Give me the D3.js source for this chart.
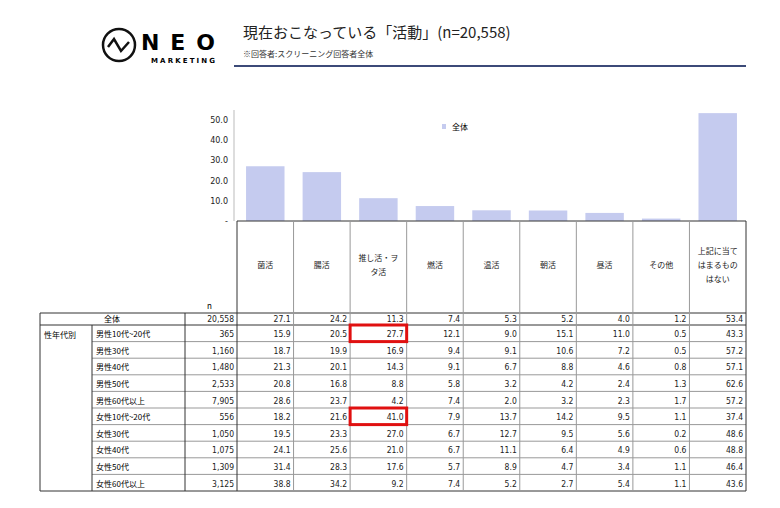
<!DOCTYPE html>
<html>
<head>
<meta charset="utf-8">
<script src="https://cdn.jsdelivr.net/npm/d3@7"></script>
<style>
  body { margin: 0; background: #fff; }
  svg { font-family: "Noto Sans CJK JP", "Noto Sans", sans-serif; }
</style>
</head>
<body>
<div id="chart"></div>
<script>
const categories = ["菌活", "腸活", "推し活・ヲタ活", "燃活", "温活", "朝活", "昼活", "その他", "上記に当てはまるものはない"];
const headerLines = [["菌活"], ["腸活"], ["推し活・ヲ", "タ活"], ["燃活"], ["温活"], ["朝活"], ["昼活"], ["その他"], ["上記に当て", "はまるもの", "はない"]];
const rowLabels = ["男性10代~20代", "男性30代", "男性40代", "男性50代", "男性60代以上", "女性10代~20代", "女性30代", "女性40代", "女性50代", "女性60代以上"];
const totalN = "20,558";
const totalValues = [27.1, 24.2, 11.3, 7.4, 5.3, 5.2, 4.0, 1.2, 53.4];
const rowN = ["365", "1,160", "1,480", "2,533", "7,905", "556", "1,050", "1,075", "1,309", "3,125"];
const rowValues = [
  [15.9, 20.5, 27.7, 12.1, 9.0, 15.1, 11.0, 0.5, 43.3],
  [18.7, 19.9, 16.9, 9.4, 9.1, 10.6, 7.2, 0.5, 57.2],
  [21.3, 20.1, 14.3, 9.1, 6.7, 8.8, 4.6, 0.8, 57.1],
  [20.8, 16.8, 8.8, 5.8, 3.2, 4.2, 2.4, 1.3, 62.6],
  [28.6, 23.7, 4.2, 7.4, 2.0, 3.2, 2.3, 1.7, 57.2],
  [18.2, 21.6, 41.0, 7.9, 13.7, 14.2, 9.5, 1.1, 37.4],
  [19.5, 23.3, 27.0, 6.7, 12.7, 9.5, 5.6, 0.2, 48.6],
  [24.1, 25.6, 21.0, 6.7, 11.1, 6.4, 4.9, 0.6, 48.8],
  [31.4, 28.3, 17.6, 5.7, 8.9, 4.7, 3.4, 1.1, 46.4],
  [38.8, 34.2, 9.2, 7.4, 5.2, 2.7, 5.4, 1.1, 43.6]
];
const highlights = [[0, 2], [5, 2]];
const yTicks = [0, 10, 20, 30, 40, 50];

const width = 780, height = 508;
const svg = d3.select("#chart").append("svg").attr("width", width).attr("height", height);

// header: logo + title
const logo = svg.append("g");
logo.append("circle").attr("cx", 119).attr("cy", 45).attr("r", 16)
  .attr("fill", "none").attr("stroke", "#111").attr("stroke-width", 2.5);
logo.append("path").attr("d", "M108,47 L114,39 L121,51 L129,42")
  .attr("fill", "none").attr("stroke", "#111").attr("stroke-width", 2.5);
logo.append("text").attr("x", 141).attr("y", 50).text("N E O")
  .style("font-family", "DejaVu Sans").style("font-weight", "bold").style("font-size", "22px")
  .attr("textLength", 74);
logo.append("text").attr("x", 151).attr("y", 63).text("MARKETING")
  .style("font-family", "DejaVu Sans").style("font-weight", "bold").style("font-size", "7px")
  .attr("textLength", 64);

svg.append("text").attr("x", 243).attr("y", 38).text("現在おこなっている「活動」(n=20,558)")
  .style("font-size", "15px").attr("fill", "#222");
svg.append("text").attr("x", 243).attr("y", 57).text("※回答者:スクリーニング回答者全体")
  .style("font-size", "8px").attr("fill", "#333");
svg.append("line").attr("x1", 234).attr("x2", 746).attr("y1", 66).attr("y2", 66)
  .attr("stroke", "#3c4a78").attr("stroke-width", 2);

// bar chart
const x = d3.scaleBand().domain(categories).range([237, 746]).paddingInner(0.32).paddingOuter(0.16);
const col = d3.scaleBand().domain(categories).range([237, 746]);
const y = d3.scaleLinear().domain([0, 50]).range([221, 120]);

svg.selectAll("rect.bar").data(totalValues).join("rect")
  .attr("class", "bar")
  .attr("x", (d, i) => x(categories[i]))
  .attr("width", x.bandwidth())
  .attr("y", d => y(d))
  .attr("height", d => y(0) - y(d))
  .attr("fill", "#c5cbef");

const yAxis = svg.append("g").attr("transform", "translate(234,0)")
  .call(d3.axisLeft(y).tickValues(yTicks).tickSize(0).tickPadding(6)
    .tickFormat(d => d === 0 ? "-" : d3.format(".1f")(d)));
yAxis.select(".domain").attr("d", "M0,110V221").attr("stroke", "#bbb");
yAxis.selectAll("text").style("font-size", "8px").style("font-family", "DejaVu Sans").attr("fill", "#222");

svg.append("rect").attr("x", 442).attr("y", 124).attr("width", 4).attr("height", 5).attr("fill", "#c5cbef");
svg.append("text").attr("x", 452).attr("y", 130).text("全体").style("font-size", "8px");

// table
const tableTop = 221, headerBottom = 313, firstRowBottom = 325, rowH = 16.6;
const tableBottom = firstRowBottom + rowH * rowValues.length;
const g = svg.append("g");
const nLeft = 185, labelLeft = 40, subLeft = 92;

// grid
g.append("line").attr("x1", 237).attr("x2", 746).attr("y1", tableTop).attr("y2", tableTop).attr("stroke", "#333");
g.append("line").attr("x1", labelLeft).attr("x2", 746).attr("y1", headerBottom).attr("y2", headerBottom).attr("stroke", "#333");
g.append("line").attr("x1", labelLeft).attr("x2", 746).attr("y1", firstRowBottom).attr("y2", firstRowBottom).attr("stroke", "#333");
rowValues.forEach((r, i) => {
  if (i === 0) return;
  const yy = firstRowBottom + i * rowH;
  g.append("line").attr("x1", subLeft).attr("x2", 746).attr("y1", yy).attr("y2", yy).attr("stroke", "#999");
});
g.append("line").attr("x1", labelLeft).attr("x2", 746).attr("y1", tableBottom).attr("y2", tableBottom).attr("stroke", "#333");
g.append("line").attr("x1", labelLeft).attr("x2", labelLeft).attr("y1", headerBottom).attr("y2", tableBottom).attr("stroke", "#333");
g.append("line").attr("x1", subLeft).attr("x2", subLeft).attr("y1", firstRowBottom).attr("y2", tableBottom).attr("stroke", "#333");
g.append("line").attr("x1", nLeft).attr("x2", nLeft).attr("y1", headerBottom).attr("y2", tableBottom).attr("stroke", "#333");
g.append("line").attr("x1", 237).attr("x2", 237).attr("y1", tableTop).attr("y2", tableBottom).attr("stroke", "#333");
categories.forEach((c, i) => {
  const xx = col(c) + col.bandwidth();
  g.append("line").attr("x1", xx).attr("x2", xx).attr("y1", tableTop).attr("y2", tableBottom)
    .attr("stroke", i === categories.length - 1 ? "#333" : "#999");
});

// header labels
headerLines.forEach((lines, i) => {
  const cx = col(categories[i]) + col.bandwidth() / 2;
  const y0 = 268 - (lines.length - 1) * 7;
  lines.forEach((t, j) => {
    g.append("text").attr("x", cx).attr("y", y0 + j * 14).attr("text-anchor", "middle")
      .text(t).style("font-size", "8px").attr("fill", "#222");
  });
});
g.append("text").attr("x", 207).attr("y", 309).text("n").style("font-size", "8px");

const numStyle = sel => sel.style("font-size", "8.5px").style("font-family", "DejaVu Sans Condensed").attr("fill", "#222");

// total row
const ty = firstRowBottom - 3;
g.append("text").attr("x", 112).attr("y", ty).attr("text-anchor", "middle").text("全体").style("font-size", "8px");
numStyle(g.append("text").attr("x", nLeft + 49).attr("y", ty).attr("text-anchor", "end").text(totalN));
totalValues.forEach((v, i) => {
  numStyle(g.append("text").attr("x", col(categories[i]) + col.bandwidth() - 3).attr("y", ty)
    .attr("text-anchor", "end").text(d3.format(".1f")(v)));
});

g.append("text").attr("x", 44).attr("y", firstRowBottom + rowH - 4).text("性年代別").style("font-size", "8px");
rowValues.forEach((r, ri) => {
  const yy = firstRowBottom + (ri + 1) * rowH - 4.5;
  g.append("text").attr("x", 96).attr("y", yy).text(rowLabels[ri]).style("font-size", "8px");
  numStyle(g.append("text").attr("x", nLeft + 49).attr("y", yy).attr("text-anchor", "end").text(rowN[ri]));
  r.forEach((v, i) => {
    numStyle(g.append("text").attr("x", col(categories[i]) + col.bandwidth() - 3).attr("y", yy)
      .attr("text-anchor", "end").text(d3.format(".1f")(v)));
  });
});

highlights.forEach(([ri, ci]) => {
  g.append("rect").attr("x", col(categories[ci])).attr("y", firstRowBottom + ri * rowH)
    .attr("width", col.bandwidth()).attr("height", rowH)
    .attr("fill", "none").attr("stroke", "#e01010").attr("stroke-width", 3);
});
</script>
</body>
</html>
